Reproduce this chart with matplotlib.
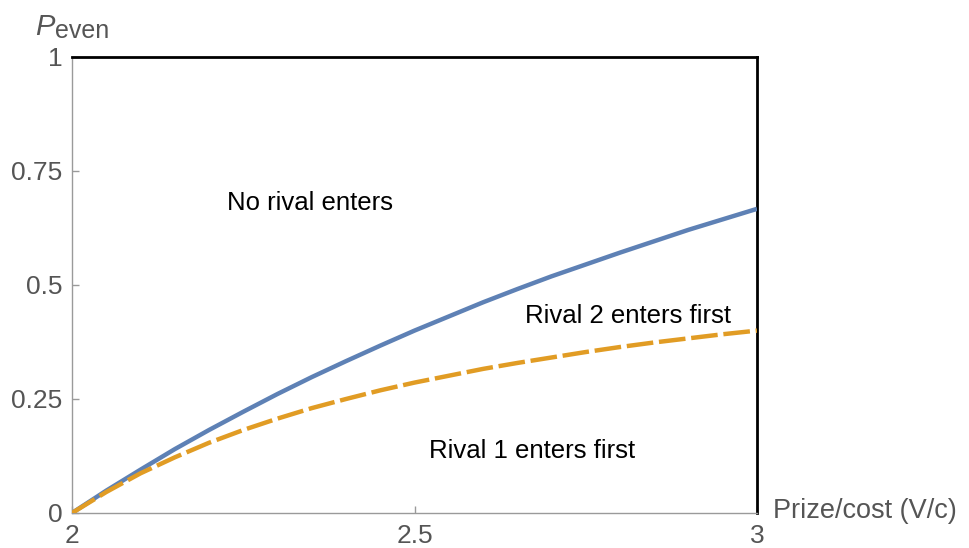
import matplotlib
matplotlib.use("Agg")
import matplotlib.pyplot as plt

# values
v = [2.0, 2.05, 2.1, 2.15, 2.2, 2.25, 2.3, 2.35, 2.4, 2.45, 2.5,
     2.55, 2.6, 2.65, 2.7, 2.75, 2.8, 2.85, 2.9, 2.95, 3.0]
p_no_rival = [0.0, 0.049, 0.095, 0.140, 0.182, 0.222, 0.261, 0.298, 0.333, 0.367, 0.400,
              0.431, 0.462, 0.491, 0.519, 0.545, 0.571, 0.596, 0.621, 0.644, 0.667]
p_rival2 = [0.0, 0.046, 0.087, 0.122, 0.154, 0.182, 0.207, 0.230, 0.250, 0.269, 0.286,
            0.301, 0.316, 0.329, 0.341, 0.353, 0.364, 0.374, 0.383, 0.392, 0.400]

x_ticks = [2, 2.5, 3]
x_labels = ["2", "2.5", "3"]
y_ticks = [0, 0.25, 0.5, 0.75, 1]
y_labels = ["0", "0.25", "0.5", "0.75", "1"]

_BLUE = "#5e81b5"
_ORANGE = "#e19c24"
_GRAY = "#555555"
_AXIS = "#9a9a9a"

plt.rcParams["font.family"] = ["Liberation Sans", "DejaVu Sans"]

fig = plt.figure(figsize=(9.69, 5.48), dpi=100)
ax = fig.add_axes([72 / 969, 35 / 548, 685 / 969, 456 / 548])

ax.plot(v, p_no_rival, color=_BLUE, linewidth=3.2, solid_capstyle="butt", zorder=3)
ax.plot(v, p_rival2, color=_ORANGE, linewidth=3.2, dashes=(6.0, 1.3), zorder=4)

ax.set_xlim(2, 3)
ax.set_ylim(0, 1)
ax.set_xticks(x_ticks, x_labels)
ax.set_yticks(y_ticks, y_labels)
ax.tick_params(direction="in", length=5, width=1, color=_AXIS,
               labelcolor=_GRAY, labelsize=19)
ax.tick_params(axis="x", pad=8)
ax.tick_params(axis="y", pad=7)

for side in ("left", "bottom"):
    ax.spines[side].set_color(_AXIS)
    ax.spines[side].set_linewidth(1.0)
for side in ("top", "right"):
    ax.spines[side].set_color("black")
    ax.spines[side].set_linewidth(2.0)

ax.text(2.348, 0.68, "No rival enters", ha="center", va="center", fontsize=18.5)
ax.text(2.812, 0.432, "Rival 2 enters first", ha="center", va="center", fontsize=18.5)
ax.text(2.672, 0.136, "Rival 1 enters first", ha="center", va="center", fontsize=18.5)

fig.text(35 / 969, 1 - 27 / 548, "P", color=_GRAY, fontsize=21,
         ha="left", va="center", fontstyle="italic")
fig.text(55 / 969, 1 - 31 / 548, "even", color=_GRAY, fontsize=18,
         ha="left", va="center")
fig.text(773 / 969, 37 / 548, "Prize/cost (V/c)", color=_GRAY, fontsize=19.5,
         ha="left", va="center")

fig.savefig("out.png", dpi=100, facecolor="white")
